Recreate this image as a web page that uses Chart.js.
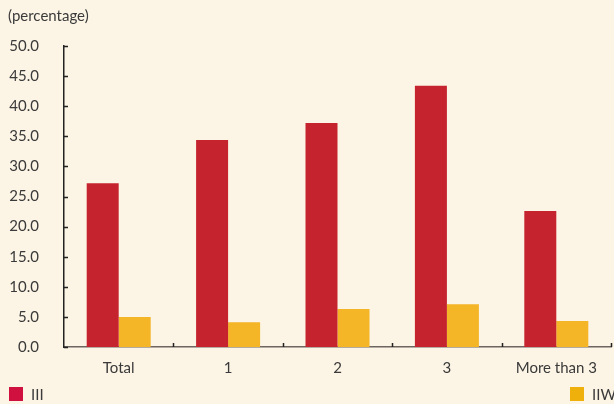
<!DOCTYPE html>
<html>
<head>
<meta charset="utf-8">
<script src="https://cdn.jsdelivr.net/npm/chart.js@4"></script>
<style>
    body { margin: 0; background: #fcf4e4; }
    .wrap { position: relative; width: 614px; height: 404px; font-family: Lato, "Open Sans", sans-serif; color: #3a3a3a; }
    .unit { position: absolute; left: 8px; top: 6px; font-size: 15px; }
    .legend { position: absolute; top: 385px; font-size: 15px; display: flex; align-items: center; }
    .legend span.box { width: 14px; height: 14px; display: inline-block; margin-right: 8px; }
</style>
</head>
<body>
<div class="wrap">
    <canvas id="chart" width="614" height="404"></canvas>
    <div class="unit">(percentage)</div>
    <div class="legend" style="left:9px"><span class="box" style="background:#d0103e"></span>III</div>
    <div class="legend" style="left:570px"><span class="box" style="background:#efb00c"></span>IIW</div>
</div>
<script>
const categories = ['Total', '1', '2', '3', 'More than 3'];
const seriesIII = [27.2, 34.4, 37.2, 43.4, 22.6];
const seriesIIW = [5.0, 4.1, 6.3, 7.1, 4.3];
const yTicks = [0, 5, 10, 15, 20, 25, 30, 35, 40, 45, 50];

const textColor = '#3a3a3a';

// small tick marks pointing into the plot area
const innerTicks = {
    id: 'innerTicks',
    afterDraw(chart) {
        const ctx = chart.ctx;
        const x = chart.scales.x;
        const y = chart.scales.y;
        ctx.save();
        ctx.strokeStyle = '#222';
        ctx.lineWidth = 1.5;
        ctx.beginPath();
        yTicks.forEach(v => {
            const py = Math.round(y.getPixelForValue(v)) + 0.5;
            ctx.moveTo(x.left, py);
            ctx.lineTo(x.left + 4, py);
        });
        for (let i = 1; i <= categories.length; i++) {
            const px = Math.round(x.getPixelForValue(i - 0.5)) + 0.5;
            ctx.moveTo(px, y.bottom);
            ctx.lineTo(px, y.bottom - 4);
        }
        ctx.stroke();
        ctx.restore();
    }
};

new Chart('chart', {
    type: 'bar',
    data: {
        labels: categories,
        datasets: [
            { label: 'III', data: seriesIII, backgroundColor: '#c5242f' },
            { label: 'IIW', data: seriesIIW, backgroundColor: '#f4b526' }
        ]
    },
    options: {
        responsive: false,
        animation: false,
        layout: { padding: { top: 46, right: 3, left: 0, bottom: 0 } },
        datasets: { bar: { categoryPercentage: 0.585, barPercentage: 1 } },
        plugins: {
            legend: { display: false },
            tooltip: { enabled: false }
        },
        scales: {
            x: {
                grid: { display: false, drawTicks: false },
                border: { display: true, color: '#6d6560', width: 1.5 },
                ticks: { color: textColor, padding: 12, font: { family: 'Lato', size: 15 } },
                afterFit(scale) { scale.height = 57; }
            },
            y: {
                min: 0,
                max: 50,
                grid: { display: false, drawTicks: false },
                border: { display: true, color: '#222', width: 1.5 },
                afterBuildTicks(scale) { scale.ticks = yTicks.map(v => ({ value: v })); },
                ticks: {
                    color: textColor,
                    padding: 25,
                    font: { family: 'Lato', size: 15 },
                    callback: v => v.toFixed(1)
                },
                afterFit(scale) { scale.width = 64; }
            }
        }
    },
    plugins: [innerTicks]
});
</script>
</body>
</html>
